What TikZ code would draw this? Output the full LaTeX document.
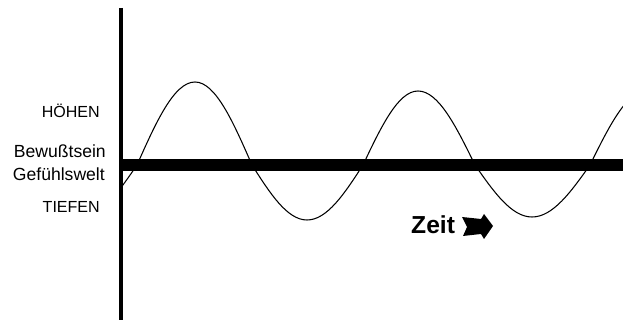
\documentclass[tikz,border=0pt]{standalone}
\usepackage{fontspec}
\setmainfont{Liberation Sans}
\usetikzlibrary{calc}

\tikzset{
  lbl/.style={anchor=base east,inner sep=0pt,font=\fontsize{13.7}{15}\selectfont},
  lbltwo/.style={lbl,font=\fontsize{15}{17}\selectfont},
  achse/.style={line width=1.2mm},
  nulllinie/.style={line width=3.6mm},
  welle/.style={line width=0.9pt}
}

\begin{document}
\begin{tikzpicture}[x=0.3mm,y=-0.3mm]
  \useasboundingbox (0,0) rectangle (623,320);
  \draw[achse] (120.5,8) -- (120.5,320);
  \draw[nulllinie] (120,165) -- (623,165);
  \begin{scope}
    \clip (121,0) rectangle (623,320);
    \draw[welle] (81,217) cos (137,165) sin (195,82) cos (252,165) sin (307,220)
      cos (363,165) sin (418,91) cos (475,165) sin (532,217) cos (590,165) sin (648,90);
  \end{scope}
  \node[lbl] (hoehen) at (100,118) {HÖHEN};
  \node[lbltwo] (bewusst) at (106,158) {Bewußtsein};
  \node[lbltwo] (gefuehl) at (105,181) {Gefühlswelt};
  \node[lbl] (tiefen) at (100,213) {TIEFEN};
  \node[anchor=base west,inner sep=0pt,font=\fontsize{21}{23}\selectfont\bfseries] (zeit) at (411,234) {Zeit};
  \fill (462,217) -- (481,219) -- (484,214) -- (493,226) -- (484,239) -- (481,234)
    -- (463,236) -- (467,227) -- cycle;
\end{tikzpicture}
\end{document}
